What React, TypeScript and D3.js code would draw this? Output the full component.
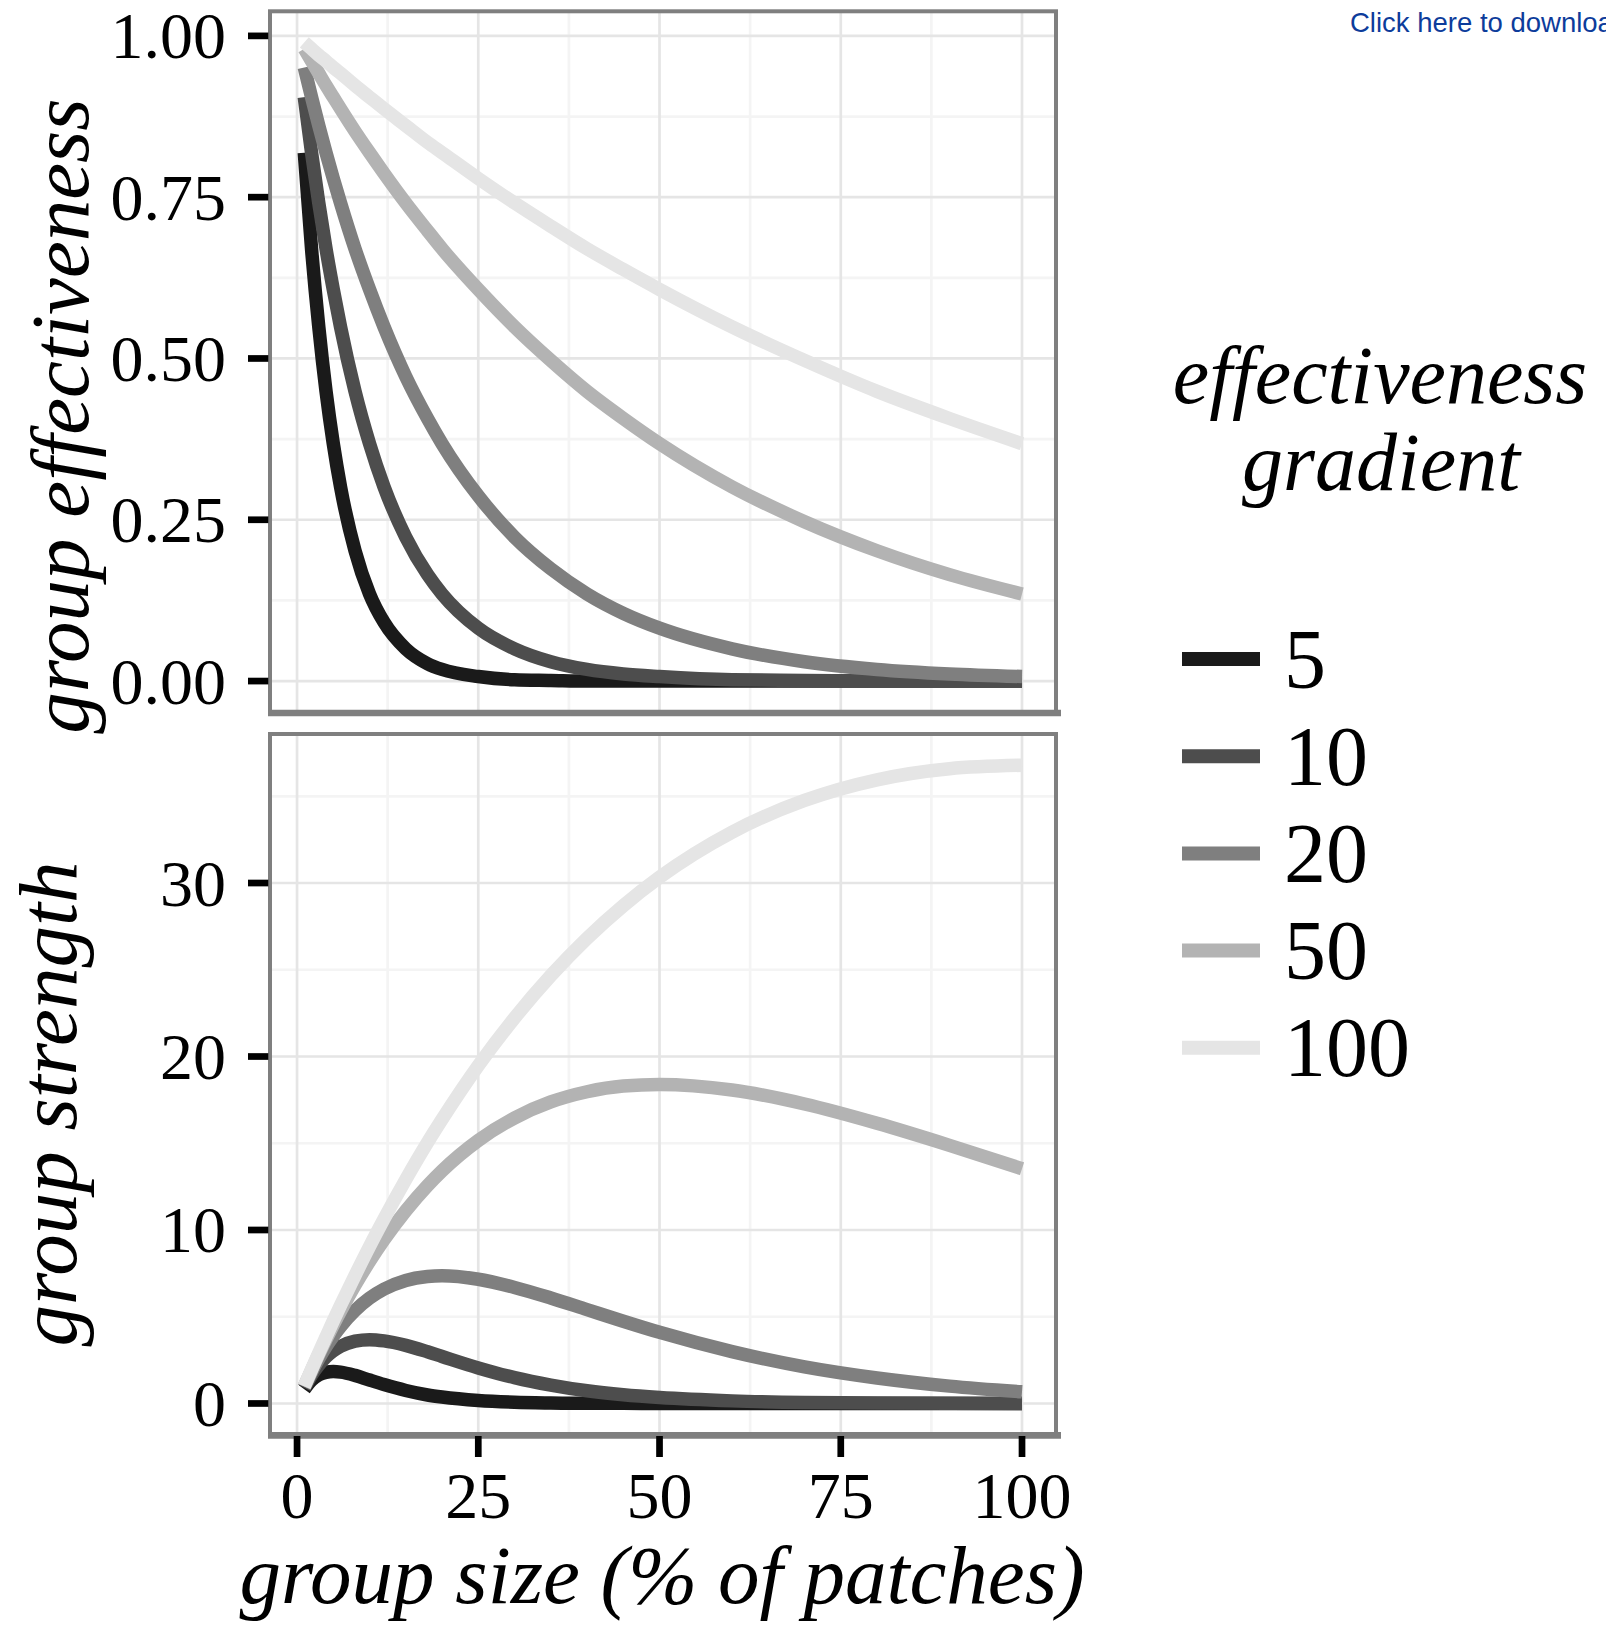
import * as d3 from 'd3';

// group size (% of patches)
const X_VALUES = [1, 2, 3, 4, 5, 6, 8, 10, 12, 15, 18, 20, 25, 30, 35, 40, 45, 50, 60, 70, 80, 90, 100];

const GRADIENTS = ['5', '10', '20', '50', '100'];
const GREYS = ['#1a1a1a', '#4d4d4d', '#7f7f7f', '#b3b3b3', '#e5e5e5'];

// group effectiveness
const EFF_5 = [0.819, 0.670, 0.549, 0.449, 0.368, 0.301, 0.202, 0.135, 0.091, 0.050, 0.027, 0.018, 0.007, 0.002, 0.001, 0, 0, 0, 0, 0, 0, 0, 0];
const EFF_10 = [0.905, 0.819, 0.741, 0.670, 0.607, 0.549, 0.449, 0.368, 0.301, 0.223, 0.165, 0.135, 0.082, 0.050, 0.030, 0.018, 0.011, 0.007, 0.002, 0.001, 0, 0, 0];
const EFF_20 = [0.951, 0.905, 0.861, 0.819, 0.779, 0.741, 0.670, 0.607, 0.549, 0.472, 0.407, 0.368, 0.287, 0.223, 0.174, 0.135, 0.105, 0.082, 0.050, 0.030, 0.018, 0.011, 0.007];
const EFF_50 = [0.980, 0.961, 0.942, 0.923, 0.905, 0.887, 0.852, 0.819, 0.787, 0.741, 0.698, 0.670, 0.607, 0.549, 0.497, 0.449, 0.407, 0.368, 0.301, 0.247, 0.202, 0.165, 0.135];
const EFF_100 = [0.990, 0.980, 0.970, 0.961, 0.951, 0.942, 0.923, 0.905, 0.887, 0.861, 0.835, 0.819, 0.779, 0.741, 0.705, 0.670, 0.638, 0.607, 0.549, 0.497, 0.449, 0.407, 0.368];

// group strength
const STR_5 = [0.82, 1.34, 1.65, 1.80, 1.84, 1.81, 1.62, 1.35, 1.09, 0.75, 0.49, 0.37, 0.17, 0.07, 0.03, 0.01, 0.01, 0, 0, 0, 0, 0, 0];
const STR_10 = [0.90, 1.64, 2.22, 2.68, 3.03, 3.29, 3.59, 3.68, 3.61, 3.35, 2.98, 2.71, 2.05, 1.49, 1.06, 0.73, 0.50, 0.34, 0.15, 0.06, 0.03, 0.01, 0];
const STR_20 = [0.95, 1.81, 2.58, 3.28, 3.89, 4.44, 5.36, 6.07, 6.59, 7.09, 7.32, 7.36, 7.16, 6.69, 6.08, 5.41, 4.74, 4.10, 2.99, 2.11, 1.47, 1.00, 0.67];
const STR_50 = [0.98, 1.92, 2.83, 3.69, 4.52, 5.32, 6.82, 8.19, 9.44, 11.11, 12.56, 13.41, 15.16, 16.46, 17.38, 17.97, 18.30, 18.39, 18.07, 17.26, 16.15, 14.88, 13.53];
const STR_100 = [0.99, 1.96, 2.91, 3.84, 4.76, 5.65, 7.38, 9.05, 10.64, 12.91, 15.04, 16.37, 19.47, 22.22, 24.66, 26.81, 28.69, 30.33, 32.93, 34.76, 35.95, 36.59, 36.79];

const EFF_SERIES = [EFF_5, EFF_10, EFF_20, EFF_50, EFF_100];
const STR_SERIES = [STR_5, STR_10, STR_20, STR_50, STR_100];

const X_TICKS = [0, 25, 50, 75, 100];
const X_MINOR = [12.5, 37.5, 62.5, 87.5];
const EFF_TICKS = [0, 0.25, 0.5, 0.75, 1];
const EFF_MINOR = [0.125, 0.375, 0.625, 0.875];
const STR_TICKS = [0, 10, 20, 30];
const STR_MINOR = [5, 15, 25, 35];

const SERIF = '"Liberation Serif", "Times New Roman", serif';
const BORDER = '#7f7f7f';

export default function App() {
  const W = 1606, H = 1632;
  const left = 268.4, right = 1057.9;
  const top1 = { y0: 11.3, y1: 713 };
  const top2 = { y0: 734, y1: 1435.4 };

  const x = d3.scaleLinear().domain([-3.95, 104.95]).range([left, right]);
  const yEff = d3.scaleLinear().domain([-0.0495, 1.0395]).range([713, 10.4]);
  const yStr = d3.scaleLinear().domain([-1.84, 38.63]).range([1435.4, 733.3]);

  const fmt2 = d3.format('.2f');

  const panel = (
    key: string,
    box: { y0: number; y1: number },
    y: d3.ScaleLinear<number, number>,
    ticks: number[],
    minor: number[],
    series: number[][],
    fmt: (v: number) => string
  ) => {
    const line = d3.line<number>()
      .x((_, i) => x(X_VALUES[i]))
      .y(d => y(d))
      .curve(d3.curveMonotoneX);
    const px0 = 270, px1 = 1056;
    return (
      <g key={key}>
        <defs>
          <clipPath id={`clip-${key}`}>
            <rect x={px0} y={box.y0} width={px1 - px0} height={box.y1 - box.y0} />
          </clipPath>
        </defs>
        <g clipPath={`url(#clip-${key})`}>
          {minor.map(v => (
            <line key={`hm${v}`} x1={px0} x2={px1} y1={y(v)} y2={y(v)} stroke="#f4f4f4" strokeWidth={2.7} />
          ))}
          {X_MINOR.map(v => (
            <line key={`vm${v}`} x1={x(v)} x2={x(v)} y1={box.y0} y2={box.y1} stroke="#f4f4f4" strokeWidth={2.7} />
          ))}
          {ticks.map(v => (
            <line key={`h${v}`} x1={px0} x2={px1} y1={y(v)} y2={y(v)} stroke="#e5e5e5" strokeWidth={2.7} />
          ))}
          {X_TICKS.map(v => (
            <line key={`v${v}`} x1={x(v)} x2={x(v)} y1={box.y0} y2={box.y1} stroke="#e5e5e5" strokeWidth={2.7} />
          ))}
          {series.map((s, i) => (
            <path key={GRADIENTS[i]} d={line(s) || ''} fill="none" stroke={GREYS[i]}
              strokeWidth={13.5} strokeLinecap="butt" strokeLinejoin="round" />
          ))}
        </g>
        <rect x={px0} y={box.y0} width={px1 - px0} height={box.y1 - box.y0} fill="none" stroke={BORDER} strokeWidth={4} />
        <line x1={268} x2={1061} y1={box.y1} y2={box.y1} stroke={BORDER} strokeWidth={6.7} />
        {ticks.map(v => (
          <g key={`t${v}`}>
            <line x1={248} x2={268.3} y1={y(v)} y2={y(v)} stroke="#000" strokeWidth={6.7} />
            <text x={226} y={y(v) + 22.5} textAnchor="end" fontFamily={SERIF} fontSize={66} fill="#000">
              {fmt(v)}
            </text>
          </g>
        ))}
      </g>
    );
  };

  return (
    <div style={{ position: 'absolute', left: 0, top: 0 }}>
      <svg width={W} height={H} viewBox={`0 0 ${W} ${H}`} style={{ display: 'block', background: '#fff' }}>
        <rect width={W} height={H} fill="#fff" />
        <text x={1350} y={32} fontFamily='"Liberation Sans", Arial, sans-serif' fontSize={27.5} fill="#0d3c9b">
          Click here to download Figure
        </text>

        {panel('eff', top1, yEff, EFF_TICKS, EFF_MINOR, EFF_SERIES, v => fmt2(v))}
        {panel('str', top2, yStr, STR_TICKS, STR_MINOR, STR_SERIES, v => String(v))}

        {X_TICKS.map(v => (
          <g key={`xt${v}`}>
            <line x1={x(v)} x2={x(v)} y1={1436} y2={1457} stroke="#000" strokeWidth={6.7} />
            <text x={x(v)} y={1518} textAnchor="middle" fontFamily={SERIF} fontSize={66} fill="#000">{v}</text>
          </g>
        ))}

        <text x={662} y={1603} textAnchor="middle" fontFamily={SERIF} fontStyle="italic" fontSize={83} fill="#000">
          group size (% of patches)
        </text>
        <text transform="translate(88,416) rotate(-90)" textAnchor="middle" fontFamily={SERIF} fontStyle="italic" fontSize={83} fill="#000">
          group effectiveness
        </text>
        <text transform="translate(76,1104) rotate(-90)" textAnchor="middle" fontFamily={SERIF} fontStyle="italic" fontSize={83} fill="#000">
          group strength
        </text>

        <text x={1380} y={403} textAnchor="middle" fontFamily={SERIF} fontStyle="italic" fontSize={82} fill="#000">effectiveness</text>
        <text x={1381} y={490} textAnchor="middle" fontFamily={SERIF} fontStyle="italic" fontSize={82} fill="#000">gradient</text>

        {GRADIENTS.map((g, i) => {
          const cy = 659 + i * 97.2;
          return (
            <g key={`lg${g}`}>
              <line x1={1182} x2={1260} y1={cy} y2={cy} stroke={GREYS[i]} strokeWidth={14} />
              <text x={1284} y={cy + 28.5} fontFamily={SERIF} fontSize={84} fill="#000">{g}</text>
            </g>
          );
        })}
      </svg>
    </div>
  );
}
